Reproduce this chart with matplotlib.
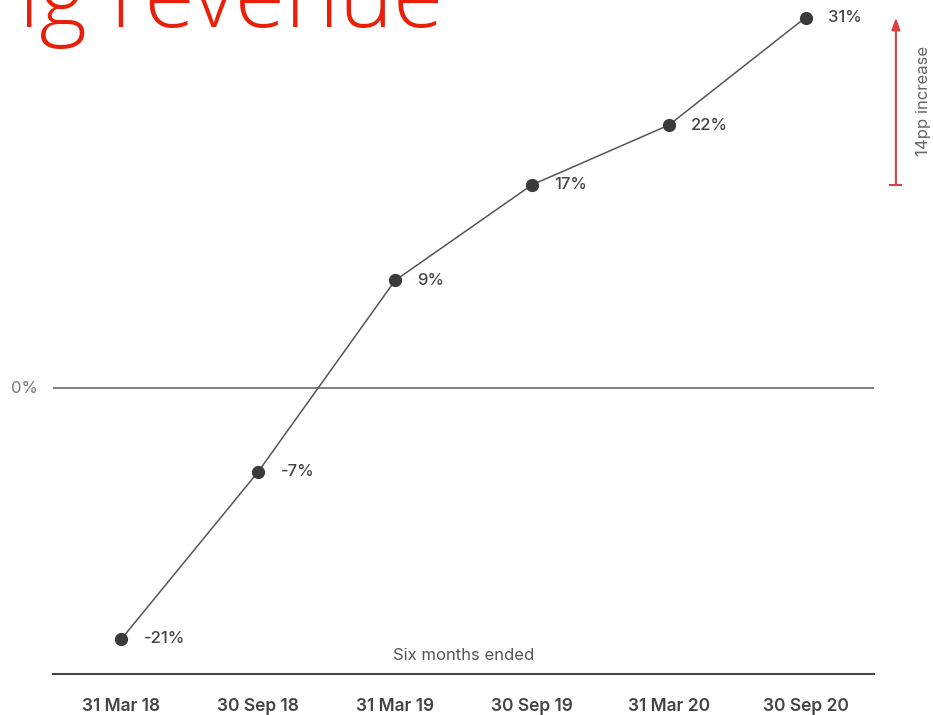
import matplotlib
matplotlib.use("Agg")
import matplotlib.pyplot as plt

periods = ["31 Mar 18", "30 Sep 18", "31 Mar 19", "30 Sep 19", "31 Mar 20", "30 Sep 20"]
growth = [-21, -7, 9, 17, 22, 31]
labels = ["-21%", "-7%", "9%", "17%", "22%", "31%"]

plt.rcParams["font.family"] = ["Inter", "DejaVu Sans"]

fig = plt.figure(figsize=(9.33, 7.15), dpi=100)
ax = fig.add_axes([53 / 933, 41 / 715, 821 / 933, 674 / 715])

x = list(range(len(periods)))
ax.plot(x, growth, color="#555555", lw=1.1, zorder=2)
ax.plot(x, growth, "o", color="#3a3a3a", ms=8.5, zorder=3)

for xi, yi, lab in zip(x, growth, labels):
    ax.annotate(lab, (xi, yi), xytext=(16, 0), textcoords="offset points",
                va="center", ha="left", fontsize=12, color="#444444",
                fontweight="medium")

ax.axhline(0, color="#777777", lw=1.3, zorder=1)
ax.set_xlim(-0.5, 5.5)
ax.set_ylim(-23.93, 32.47)

ax.set_yticks([])
ax.set_xticks(x)
ax.set_xticklabels(periods, fontsize=12.5, color="#444444", fontweight="semibold")
ax.tick_params(axis="x", length=0, pad=17)
for side in ["top", "right", "left"]:
    ax.spines[side].set_visible(False)
ax.spines["bottom"].set_color("#444444")
ax.spines["bottom"].set_linewidth(1.5)

ax.text(-0.61, 0, "0%", ha="right", va="center", fontsize=12, color="#777777")
ax.text(2.5, -22.4, "Six months ended", ha="center", va="center",
        fontsize=12, color="#555555")

# red arrow showing the increase from 17% to 31%
ax.annotate("", xy=(5.66, 31), xytext=(5.66, 17),
            arrowprops=dict(arrowstyle="-|>,head_length=0.7,head_width=0.25",
                            color="#d94040", lw=1.5, shrinkA=0, shrinkB=0),
            annotation_clip=False)
ax.plot([5.62, 5.70], [17, 17], color="#d94040", lw=1.5, clip_on=False)
ax.text(5.86, 24, "14pp increase", rotation=90, ha="center", va="center",
        fontsize=12, color="#666666")

fig.text(443 / 933, 1 - 27 / 715, "ng revenue", ha="right", va="baseline",
         fontsize=66, color="#e8200a", family=["Open Sans", "DejaVu Sans"],
         fontweight="light")

fig.savefig("out.png", dpi=100)
